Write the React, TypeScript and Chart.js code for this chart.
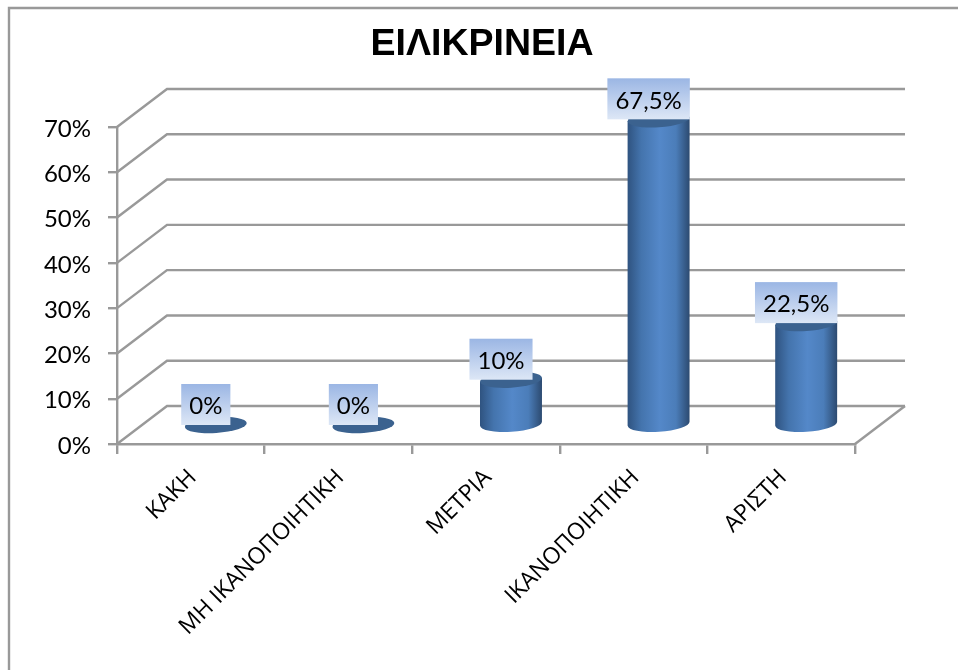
import { useEffect, useRef } from "react";
import { Chart, registerables } from "chart.js";

Chart.register(...registerables);

const categories = ["ΚΑΚΗ", "ΜΗ ΙΚΑΝΟΠΟΙΗΤΙΚΗ", "ΜΕΤΡΙΑ", "ΙΚΑΝΟΠΟΙΗΤΙΚΗ", "ΑΡΙΣΤΗ"];
const percentages = [0, 0, 10, 67.5, 22.5];
const valueLabels = ["0%", "0%", "10%", "67,5%", "22,5%"];
const chartTitle = "ΕΙΛΙΚΡΙΝΕΙΑ";

const DEPTH_X = 50;
const DEPTH_Y = 38;
const GRID = "#999999";
const LINE = 2.4;
const LABEL_FONT = '24px "Lato", "Open Sans", sans-serif';

// Back wall, side wall and floor lines of the 3D box, taken from the axes.
const wallsPlugin = {
  id: "walls",
  beforeDatasetsDraw(chart: any) {
    const { ctx, chartArea, scales } = chart;
    ctx.save();
    ctx.strokeStyle = GRID;
    ctx.lineWidth = LINE;
    for (const tick of scales.y.ticks) {
      const y = scales.y.getPixelForValue(tick.value);
      ctx.beginPath();
      ctx.moveTo(chartArea.left, y);
      ctx.lineTo(chartArea.left + DEPTH_X, y - DEPTH_Y);
      ctx.lineTo(chartArea.right + DEPTH_X, y - DEPTH_Y);
      ctx.stroke();
    }
    ctx.beginPath();
    ctx.moveTo(chartArea.right, chartArea.bottom);
    ctx.lineTo(chartArea.right + DEPTH_X, chartArea.bottom - DEPTH_Y);
    ctx.stroke();
    ctx.restore();
  },
};

// Draws each bar element as an upright cylinder standing mid-way into the box.
const cylinderPlugin = {
  id: "cylinders",
  beforeDatasetDraw(chart: any, args: any) {
    const { ctx } = chart;
    const tilt = (-3.7 * Math.PI) / 180;
    args.meta.data.forEach((bar: any) => {
      const { x, y, base, width } = bar.getProps(["x", "y", "base", "width"], true);
      const cx = x + DEPTH_X / 2;
      const top = y - DEPTH_Y / 2;
      const bottom = base - DEPTH_Y / 2;
      const rx = width / 2;
      const ry = 8;
      const tan = Math.tan(tilt) * rx;
      const body = ctx.createLinearGradient(cx - rx, 0, cx + rx, 0);
      body.addColorStop(0, "#2f5380");
      body.addColorStop(0.22, "#4474ad");
      body.addColorStop(0.52, "#5488c9");
      body.addColorStop(0.78, "#4b7db9");
      body.addColorStop(1, "#2c4a70");
      ctx.save();
      if (bottom - top > 0.5) {
        ctx.fillStyle = body;
        ctx.beginPath();
        ctx.moveTo(cx - rx, top - tan);
        ctx.lineTo(cx - rx, bottom - tan);
        ctx.ellipse(cx, bottom, rx, ry, tilt, Math.PI, 0, true);
        ctx.lineTo(cx + rx, top + tan);
        ctx.closePath();
        ctx.fill();
      }
      ctx.fillStyle = "#3b628f";
      ctx.beginPath();
      ctx.ellipse(cx, top, rx, ry, tilt, 0, Math.PI * 2);
      ctx.fill();
      ctx.restore();
    });
    return false;
  },
  afterDatasetsDraw(chart: any) {
    const { ctx } = chart;
    const bars = chart.getDatasetMeta(0).data;
    ctx.save();
    ctx.font = LABEL_FONT;
    ctx.textAlign = "center";
    ctx.textBaseline = "middle";
    bars.forEach((bar: any, i: number) => {
      const text = valueLabels[i];
      const w = ctx.measureText(text).width + 16;
      const h = 41;
      const cx = bar.x + DEPTH_X / 2 - 10;
      const bottom = bar.y - DEPTH_Y / 2;
      const fill = ctx.createLinearGradient(0, bottom - h, 0, bottom);
      fill.addColorStop(0, "#9bb6e4");
      fill.addColorStop(1, "#dde7f6");
      ctx.fillStyle = fill;
      ctx.fillRect(cx - w / 2, bottom - h, w, h);
      ctx.fillStyle = "#000";
      ctx.fillText(text, cx, bottom - h / 2 + 2);
    });
    ctx.restore();
  },
};

// White page with the grey frame edges along the top and left of the chart.
const framePlugin = {
  id: "frame",
  beforeDraw(chart: any) {
    const { ctx, width, height } = chart;
    ctx.save();
    ctx.fillStyle = "#fff";
    ctx.fillRect(0, 0, width, height);
    ctx.strokeStyle = GRID;
    ctx.lineWidth = LINE;
    ctx.beginPath();
    ctx.moveTo(9, height);
    ctx.lineTo(9, 8);
    ctx.lineTo(width, 8);
    ctx.stroke();
    ctx.restore();
  },
};

export default function App() {
  const ref = useRef<HTMLCanvasElement>(null);
  useEffect(() => {
    const chart = new Chart(ref.current!, {
      type: "bar",
      data: {
        labels: categories,
        datasets: [
          {
            data: percentages,
            backgroundColor: "#4f81bd",
            categoryPercentage: 1,
            barPercentage: 0.42,
          },
        ],
      },
      options: {
        responsive: false,
        animation: false,
        layout: { padding: { left: 6, right: 0, top: 0, bottom: 0 } },
        plugins: {
          legend: { display: false },
          tooltip: { enabled: false },
          title: {
            display: true,
            text: chartTitle,
            color: "#000",
            font: { family: '"Liberation Sans", Arial, sans-serif', size: 37.5, weight: "bold" },
            padding: { top: 22, bottom: 60 },
          },
        },
        scales: {
          x: {
            grid: { drawOnChartArea: false, color: GRID, lineWidth: LINE, tickLength: 10 },
            border: { color: GRID, width: LINE },
            ticks: {
              color: "#000",
              font: { family: '"Open Sans", sans-serif', size: 23 },
              minRotation: 45,
              maxRotation: 45,
              autoSkip: false,
              padding: 10,
              labelOffset: 2,
            },
            afterFit(scale: any) {
              scale.height = 226;
            },
          },
          y: {
            min: 0,
            max: 70,
            grid: { drawOnChartArea: false, color: GRID, lineWidth: LINE, tickLength: 9 },
            border: { color: GRID, width: LINE },
            ticks: {
              stepSize: 10,
              color: "#000",
              font: { family: '"Lato", "Open Sans", sans-serif', size: 24 },
              padding: 17,
              labelOffset: 2,
              callback: (v: any) => `${v}%`,
            },
            afterFit(scale: any) {
              scale.width = 111;
            },
          },
          // Reserves the empty margin to the right of the plot for the box's depth.
          rightMargin: {
            position: "right",
            grid: { display: false },
            border: { display: false },
            ticks: { display: false },
            afterFit(scale: any) {
              scale.width = 103;
            },
          },
        },
      },
      plugins: [framePlugin, wallsPlugin, cylinderPlugin],
    } as any);
    return () => chart.destroy();
  }, []);
  return (
    <div style={{ position: "fixed", left: 0, top: 0 }}>
      <canvas ref={ref} width={958} height={670} style={{ display: "block" }} />
    </div>
  );
}
